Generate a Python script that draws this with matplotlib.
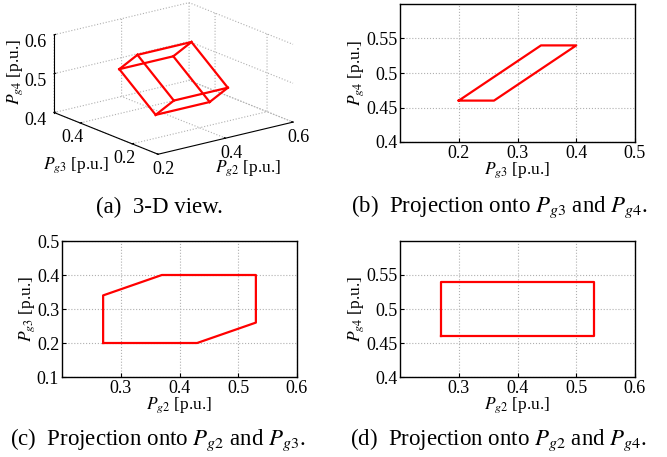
import numpy as np
import matplotlib
matplotlib.use("Agg")
import matplotlib.pyplot as plt

plt.rcParams['font.family'] = ['Liberation Serif', 'DejaVu Serif']
plt.rcParams['mathtext.fontset'] = 'stix'
plt.rcParams['grid.linestyle'] = ':'
plt.rcParams['grid.color'] = '#b0b0b0'
plt.rcParams['grid.linewidth'] = 0.8

# feasible region: base point plus three edge vectors (Pg2, Pg3, Pg4)
base = [0.27, 0.20, 0.46]
edge_a = [0.16, 0.00, 0.00]
edge_b = [0.10, 0.06, 0.00]
edge_c = [0.00, 0.14, 0.08]

# projected outlines
pg2_pg3_x = [0.27, 0.43, 0.53, 0.53, 0.37, 0.27, 0.27]
pg2_pg3_y = [0.20, 0.20, 0.26, 0.40, 0.40, 0.34, 0.20]
pg3_pg4_x = [0.20, 0.26, 0.40, 0.34, 0.20]
pg3_pg4_y = [0.46, 0.46, 0.54, 0.54, 0.46]
pg2_pg4_x = [0.27, 0.53, 0.53, 0.27, 0.27]
pg2_pg4_y = [0.46, 0.46, 0.54, 0.54, 0.46]

RED = '#ff0000'
LW = 1.6
TICK_FS = 13
LABEL_FS = 12.5
CAP_FS = 16.5
W, H = 667, 457

fig = plt.figure(figsize=(W / 100, H / 100), dpi=100)


def rect(x0, y0, x1, y1):
    return [x0 / W, 1 - y1 / H, (x1 - x0) / W, (y1 - y0) / H]


def style_2d(ax):
    ax.grid(True)
    ax.tick_params(direction='in', length=3, labelsize=TICK_FS, pad=2)
    for s in ax.spines.values():
        s.set_linewidth(1.0)


# (a) 3-D view
ax3 = fig.add_axes(rect(6, -14, 336, 176), projection='3d', proj_type='ortho')
ax3.view_init(elev=18, azim=-127.6)
ax3.set_box_aspect((1, 1, 0.48), zoom=1.3)
b = np.array(base)
ea, eb, ec = np.array(edge_a), np.array(edge_b), np.array(edge_c)
corners = {}
for i in (0, 1):
    for j in (0, 1):
        for k in (0, 1):
            corners[(i, j, k)] = b + i * ea + j * eb + k * ec
for key, p in corners.items():
    for d in range(3):
        if key[d] == 0:
            nk = list(key)
            nk[d] = 1
            q = corners[tuple(nk)]
            ax3.plot([p[0], q[0]], [p[1], q[1]], [p[2], q[2]], color=RED, lw=LW)
ax3.set_xlim(0.2, 0.6)
ax3.set_ylim(0.1, 0.5)
ax3.set_zlim(0.4, 0.6)
ax3.set_xticks([0.2, 0.4, 0.6])
ax3.set_yticks([0.2, 0.4])
ax3.set_zticks([0.4, 0.5, 0.6])
for axis in (ax3.xaxis, ax3.yaxis, ax3.zaxis):
    axis.set_pane_color((1, 1, 1, 0))
    axis.pane.set_edgecolor('#c8c8c8')
    axis.line.set_color('black')
    axis._axinfo['tick']['inward_factor'] = 0.0
    axis._axinfo['tick']['outward_factor'] = 0.15
ax3.tick_params(labelsize=TICK_FS)
ax3.xaxis.set_tick_params(pad=-4)
ax3.yaxis.set_tick_params(pad=-4)
ax3.zaxis.set_tick_params(pad=-2.5)
fig.text(76 / W, 1 - 165 / H, r'$P_{g3}$ [p.u.]', fontsize=LABEL_FS, ha='center', va='center')
fig.text(248 / W, 1 - 168 / H, r'$P_{g2}$ [p.u.]', fontsize=LABEL_FS, ha='center', va='center')
fig.text(15 / W, 1 - 72 / H, r'$P_{g4}$ [p.u.]', fontsize=LABEL_FS, ha='center', va='center',
         rotation=90)

# (b) projection onto Pg3 and Pg4
axb = fig.add_axes(rect(400, 4, 635, 142))
axb.plot(pg3_pg4_x, pg3_pg4_y, color=RED, lw=LW)
axb.set_xlim(0.1, 0.5)
axb.set_ylim(0.4, 0.6)
axb.set_xticks([0.2, 0.3, 0.4, 0.5])
axb.set_yticks([0.4, 0.45, 0.5, 0.55])
axb.set_xticklabels(['0.2', '0.3', '0.4', '0.5'])
axb.set_yticklabels(['0.4', '0.45', '0.5', '0.55'])
axb.set_xlabel(r'$P_{g3}$ [p.u.]', fontsize=LABEL_FS, labelpad=-1)
axb.set_ylabel(r'$P_{g4}$ [p.u.]', fontsize=LABEL_FS, labelpad=0)
style_2d(axb)

# (c) projection onto Pg2 and Pg3
axc = fig.add_axes(rect(62, 241, 297, 377))
axc.plot(pg2_pg3_x, pg2_pg3_y, color=RED, lw=LW)
axc.set_xlim(0.2, 0.6)
axc.set_ylim(0.1, 0.5)
axc.set_xticks([0.3, 0.4, 0.5, 0.6])
axc.set_yticks([0.1, 0.2, 0.3, 0.4, 0.5])
axc.set_xticklabels(['0.3', '0.4', '0.5', '0.6'])
axc.set_yticklabels(['0.1', '0.2', '0.3', '0.4', '0.5'])
axc.set_xlabel(r'$P_{g2}$ [p.u.]', fontsize=LABEL_FS, labelpad=-1)
axc.set_ylabel(r'$P_{g3}$ [p.u.]', fontsize=LABEL_FS, labelpad=0)
style_2d(axc)

# (d) projection onto Pg2 and Pg4
axd = fig.add_axes(rect(400, 241, 635, 377))
axd.plot(pg2_pg4_x, pg2_pg4_y, color=RED, lw=LW)
axd.set_xlim(0.2, 0.6)
axd.set_ylim(0.4, 0.6)
axd.set_xticks([0.3, 0.4, 0.5, 0.6])
axd.set_yticks([0.4, 0.45, 0.5, 0.55])
axd.set_xticklabels(['0.3', '0.4', '0.5', '0.6'])
axd.set_yticklabels(['0.4', '0.45', '0.5', '0.55'])
axd.set_xlabel(r'$P_{g2}$ [p.u.]', fontsize=LABEL_FS, labelpad=-1)
axd.set_ylabel(r'$P_{g4}$ [p.u.]', fontsize=LABEL_FS, labelpad=0)
style_2d(axd)

# captions
fig.text(159 / W, 1 - 207 / H, '(a)  3-D view.', fontsize=CAP_FS, ha='center', va='center')
fig.text(499 / W, 1 - 207 / H, r'(b)  Projection onto $P_{g3}$ and $P_{g4}$.',
         fontsize=CAP_FS, ha='center', va='center')
fig.text(158 / W, 1 - 440 / H, r'(c)  Projection onto $P_{g2}$ and $P_{g3}$.',
         fontsize=CAP_FS, ha='center', va='center')
fig.text(498 / W, 1 - 440 / H, r'(d)  Projection onto $P_{g2}$ and $P_{g4}$.',
         fontsize=CAP_FS, ha='center', va='center')

fig.savefig('out.png', dpi=100)
